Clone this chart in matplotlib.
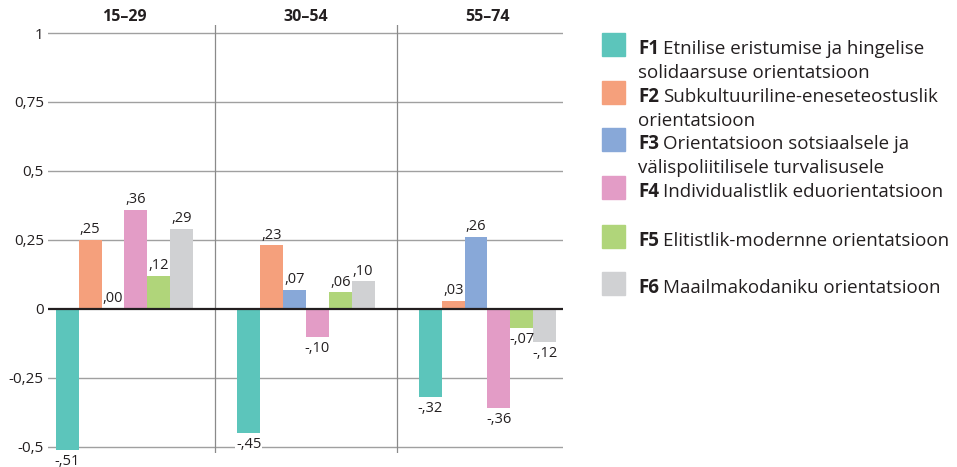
#!/usr/bin/env python3

"""
Grouped bar chart: orientation factor scores (F1-F6) by age group.
"""

import numpy as np
import matplotlib
matplotlib.use("Agg")
import matplotlib.pyplot as plt
from matplotlib import transforms


# Data
age_groups = ["15–29", "30–54", "55–74"]
factors = ["F1", "F2", "F3", "F4", "F5", "F6"]
factor_names = [
    "Etnilise eristumise ja hingelise\nsolidaarsuse orientatsioon",
    "Subkultuuriline-eneseteostuslik\norientatsioon",
    "Orientatsioon sotsiaalsele ja\nvälispoliitilisele turvalisusele",
    "Individualistlik eduorientatsioon",
    "Elitistlik-modernne orientatsioon",
    "Maailmakodaniku orientatsioon",
]
f1_values = [-0.51, -0.45, -0.32]
f2_values = [0.25, 0.23, 0.03]
f3_values = [0.00, 0.07, 0.26]
f4_values = [0.36, -0.10, -0.36]
f5_values = [0.12, 0.06, -0.07]
f6_values = [0.29, 0.10, -0.12]
y_ticks = [-0.5, -0.25, 0, 0.25, 0.5, 0.75, 1]
y_tick_labels = ["-0,5", "-0,25", "0", "0,25", "0,5", "0,75", "1"]

colors = ["#5cc5bb", "#f5a07c", "#88a8d8", "#e39cc6", "#b0d57a", "#d0d1d3"]

plt.rcParams["font.family"] = ["Open Sans", "DejaVu Sans"]
TXT = "#231f20"


def fmt(v):
    s = f"{abs(v):.2f}"[1:].replace(".", ",")
    return ("-" if v < 0 else "") + s


def create_plot():
    W, H = 957, 467
    fig = plt.figure(figsize=(W / 100, H / 100), dpi=100)
    ax = fig.add_axes([48 / W, 14 / H, (563 - 48) / W, (453 - 25) / H])

    series = [f1_values, f2_values, f3_values, f4_values, f5_values, f6_values]
    x = np.arange(len(age_groups))
    width = 0.126
    offsets = (np.arange(6) - 2.5) * width

    for vals, off, col in zip(series, offsets, colors):
        ax.bar(x + off, vals, width, color=col, zorder=2, linewidth=0)
        for xi, v in zip(x, vals):
            if v >= 0:
                ax.annotate(fmt(v), (xi + off, v), xytext=(0, 2),
                            textcoords="offset points", ha="center",
                            va="bottom", fontsize=10.5, color=TXT, zorder=4,
                            annotation_clip=False)
            else:
                box = None
                if v < -0.2:
                    box = dict(boxstyle="square,pad=0.05", fc="white",
                               ec="none")
                ax.annotate(fmt(v), (xi + off, v), xytext=(0, -3),
                            textcoords="offset points", ha="center",
                            va="top", fontsize=10.5, color=TXT, zorder=4,
                            annotation_clip=False, bbox=box)

    for yv in y_ticks:
        if yv == 0:
            ax.axhline(0, color="#231f20", lw=1.6, zorder=3)
        else:
            ax.axhline(yv, color="#a0a0a0", lw=1.0, zorder=1)
    for sep in [0.5, 1.5]:
        ax.axvline(sep, color="#8a8a8a", lw=0.9, zorder=1)

    ax.set_xlim(-0.421, 2.416)
    ax.set_ylim(-0.522, 1.029)
    ax.set_yticks(y_ticks)
    ax.set_yticklabels(y_tick_labels, fontsize=11, color=TXT)
    ax.tick_params(axis="y", length=0, pad=3)
    ax.set_xticks([])
    for s in ax.spines.values():
        s.set_visible(False)

    trans = transforms.blended_transform_factory(ax.transData, ax.transAxes)
    for xi, g in zip(x, age_groups):
        ax.text(xi, 1.0, g, transform=trans, ha="center", va="bottom",
                fontsize=11.5, fontweight="bold", color=TXT)

    # legend drawn by hand
    fig.canvas.draw()
    renderer = fig.canvas.get_renderer()
    sq_tops = [33, 81, 128, 176, 225, 272]
    for f, name, col, top in zip(factors, factor_names, colors, sq_tops):
        fig.patches.append(plt.Rectangle((602 / W, 1 - (top + 23) / H),
                                         23 / W, 23 / H, color=col,
                                         transform=fig.transFigure,
                                         figure=fig))
        base_px = top + 21
        t = fig.text(638 / W, 1 - base_px / H, f, fontsize=13.5,
                     fontweight="bold", va="baseline", ha="left", color=TXT)
        bb = t.get_window_extent(renderer)
        for i, line in enumerate(name.split("\n")):
            xs = (bb.x1 + 4) if i == 0 else 638
            fig.text(xs / W, 1 - (base_px + 24 * i) / H, line, fontsize=13.5,
                     va="baseline", ha="left", color=TXT)

    fig.savefig("out.png", dpi=100)


def main():
    create_plot()


if __name__ == "__main__":
    main()
